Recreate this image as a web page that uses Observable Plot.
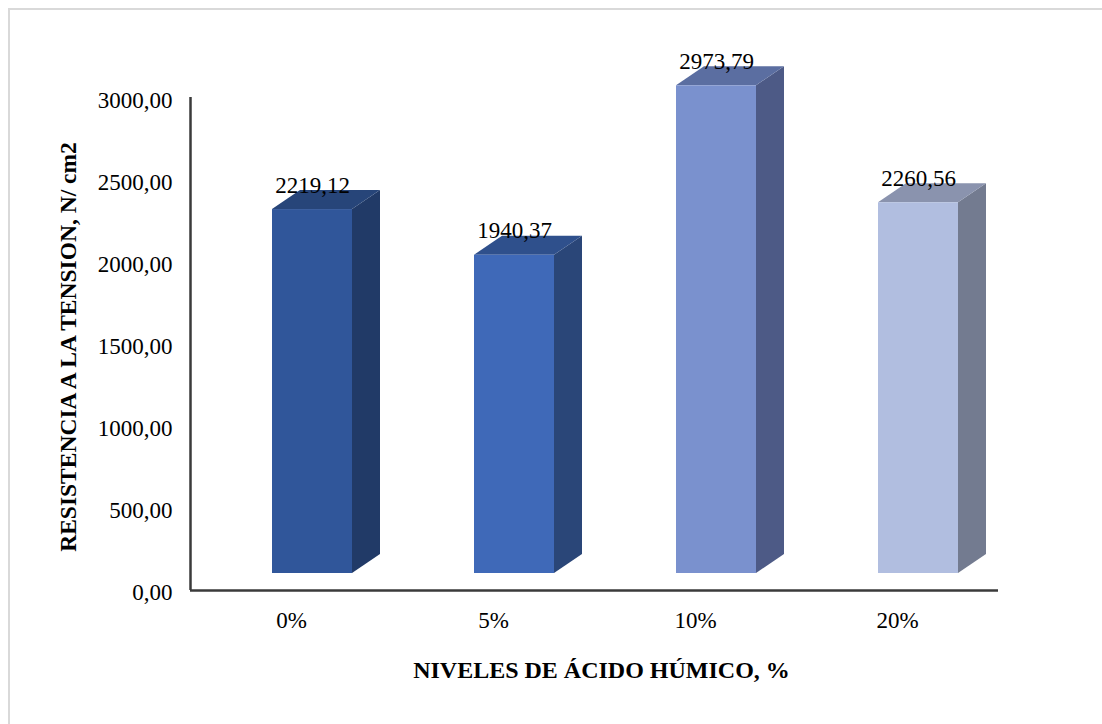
<!DOCTYPE html>
<html>
<head>
<meta charset="utf-8">
<script src="https://cdn.jsdelivr.net/npm/d3@7"></script>
<script src="https://cdn.jsdelivr.net/npm/@observablehq/plot@0.6"></script>
<style>
  html, body { margin: 0; padding: 0; background: #fff; overflow: hidden; }
  #wrap { position: relative; width: 1102px; height: 724px; }
  #border { position: absolute; left: 8px; top: 8px; width: 1200px; height: 800px;
            border-left: 2px solid #d9d9d9; border-top: 2px solid #d9d9d9; }
  #chart { position: absolute; left: 0; top: 0; }
</style>
</head>
<body>
<div id="wrap"><div id="border"></div><div id="chart"></div></div>
<script>
// ---- data ----
const categories = ["0%", "5%", "10%", "20%"];
const values = [2219.12, 1940.37, 2973.79, 2260.56];
const yTicks = [0, 500, 1000, 1500, 2000, 2500, 3000];
const frontColors = ["#30569A", "#3F69B8", "#7A91CE", "#B1BEE0"];
const sideColors  = ["#213A67", "#2A4678", "#4D5A86", "#737B90"];
const topColors   = ["#274579", "#2F508C", "#5B6EA1", "#8A93AE"];
const xTitle = "NIVELES DE ÁCIDO HÚMICO, %";
const yTitle = "RESISTENCIA A LA TENSION, N/ cm2";

// ---- layout helpers (pixels -> data units) ----
const W = 1102, H = 724;
const mL = 190, mR = 104, mT = 97, mB = 134;
const y0px = 592, y3000px = 100;
const kx = (W - mL - mR) / 4;              // px per category
const ky = 3000 / (y0px - y3000px);        // data units per px
const fL = -19, fR = 61, depX = 28, depY = 19, lift = -19;

const rows = categories.map((c, i) => ({i, c, v: values[i],
  front: frontColors[i], side: sideColors[i], top: topColors[i]}));

const sideRows = rows.flatMap(d => [
  {i: d.i, x: d.i + fR / kx, y1: 0, y2: d.v, fill: d.side},
  {i: d.i, x: d.i + (fR + depX) / kx, y1: depY * ky, y2: d.v + depY * ky, fill: d.side}
]);
const topRows = rows.flatMap(d => [
  {i: d.i, y: d.v, x1: d.i + fL / kx, x2: d.i + fR / kx, fill: d.top},
  {i: d.i, y: d.v + depY * ky, x1: d.i + (fL + depX) / kx, x2: d.i + (fR + depX) / kx, fill: d.top}
]);

const fmt = d => d.toFixed(2).replace(".", ",");
const serif = "'Liberation Serif', 'Times New Roman', serif";

const chart = Plot.plot({
  width: W, height: H,
  marginLeft: mL, marginRight: mR, marginTop: mT, marginBottom: mB,
  x: {type: "linear", domain: [-0.5, 3.5]},
  y: {domain: [0, 3000], range: [y0px, y3000px]},
  color: {type: "identity"},
  style: {fontFamily: serif, fontSize: "23px", color: "#000", background: "transparent", overflow: "visible"},
  marks: [
    Plot.areaY(sideRows, {x: "x", y1: "y1", y2: "y2", z: "i", fill: "fill", dy: lift}),
    Plot.areaX(topRows, {y: "y", x1: "x1", x2: "x2", z: "i", fill: "fill", dy: lift}),
    Plot.rectY(rows, {x1: d => d.i + fL / kx, x2: d => d.i + fR / kx, y1: 0, y2: "v", fill: "front", dy: lift}),
    Plot.text(rows, {x: d => d.i + (fL + fR) / 2 / kx, y: "v", text: d => fmt(d.v),
      lineAnchor: "bottom", dy: lift - 17, fill: "#000", fontSize: 23}),
    Plot.ruleX([-0.5], {stroke: "#3a3a3a", strokeWidth: 2.5}),
    Plot.ruleY([0], {stroke: "#3a3a3a", strokeWidth: 2.5, dy: -2}),
    Plot.axisY({ticks: yTicks, tickSize: 0, tickPadding: 18, tickFormat: fmt, label: null, fontSize: 23}),
    Plot.axisX({ticks: [0, 1, 2, 3], tickSize: 0, tickPadding: 21, tickFormat: i => categories[i], label: null, fontSize: 23}),
    Plot.text([xTitle], {frameAnchor: "bottom", textAnchor: "middle", lineAnchor: "middle", dy: 80, dx: 7,
      text: d => d, fontWeight: "bold", fontSize: 24, fill: "#000"}),
    Plot.text([yTitle], {frameAnchor: "left", textAnchor: "middle", lineAnchor: "middle", dx: -122, dy: 3, rotate: -90,
      text: d => d, fontWeight: "bold", fontSize: 23.5, fill: "#000"})
  ]
});
document.getElementById("chart").appendChild(chart);
</script>
</body>
</html>
